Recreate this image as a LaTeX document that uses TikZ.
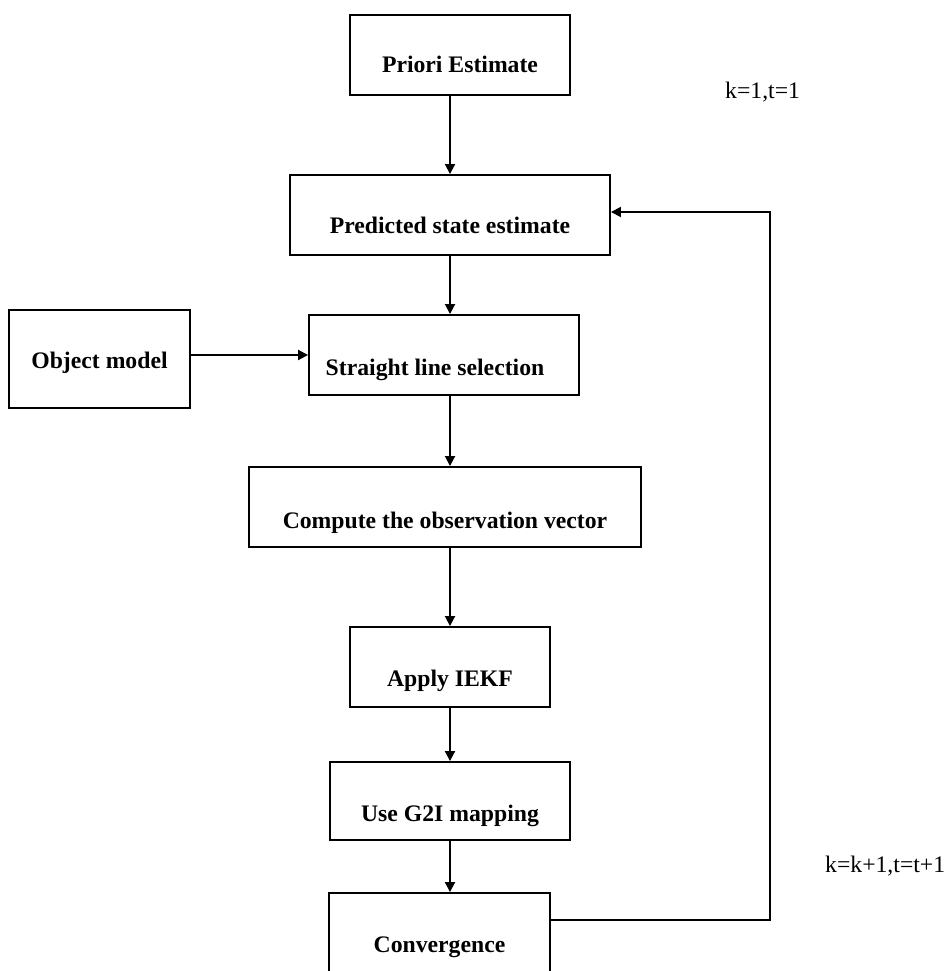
\documentclass[tikz,border=0pt]{standalone}
\usepackage{fontspec}
\setmainfont{Liberation Serif}
\usetikzlibrary{arrows.meta}

\tikzset{
  stepbox/.style={draw, line width=1.9pt, inner sep=0pt, text depth=0pt,
    font=\fontsize{23.7}{28}\selectfont\bfseries},
  note/.style={inner sep=0pt, anchor=west, font=\fontsize{23.7}{28}\selectfont},
  flow/.style={draw, line width=1.9pt, -{Triangle[length=10pt,width=10pt]}},
}

\begin{document}
\begin{tikzpicture}[x=1pt,y=-1pt]

\useasboundingbox (0,0) rectangle (946,971);
\clip (0,0) rectangle (946,971);

\coordinate (axis) at (450,0);

\node[stepbox, minimum width=220pt, minimum height=80pt, text height=36pt] (pri) at (460,55) {Priori Estimate};
\node[stepbox, minimum width=320pt, minimum height=80pt, text height=36pt] (pred) at (450,215) {Predicted state estimate};
\node[stepbox, minimum width=181pt, minimum height=98pt, text height=18pt] (obj) at (99.5,359) {Object model};
\node[stepbox, minimum width=270pt, minimum height=80pt, text height=40pt] (sel) at (444,355) {\hspace*{-18pt}Straight line selection};
\node[stepbox, minimum width=392pt, minimum height=80pt, text height=42pt] (comp) at (445,507) {Compute the observation vector};
\node[stepbox, minimum width=200pt, minimum height=80pt, text height=38pt] (iekf) at (450,667) {Apply IEKF};
\node[stepbox, minimum width=240pt, minimum height=78pt, text height=40pt] (g2i) at (450,801) {Use G2I mapping};
\node[stepbox, minimum width=221pt, minimum height=100pt, text height=18pt] (conv) at (439.5,943) {Convergence};

\node[note] (init) at (725,92) {k=1,t=1};
\node[note] (incr) at (825,866) {k=k+1,t=t+1};

\coordinate (fbB) at (770,920);
\coordinate (fbT) at (770,212);

\path[flow] (pri.south -| axis) -- (pred.north -| axis);
\path[flow] (pred.south -| axis) -- (sel.north -| axis);
\path[flow] (sel.south -| axis) -- (comp.north -| axis);
\path[flow] (comp.south -| axis) -- (iekf.north -| axis);
\path[flow] (iekf.south -| axis) -- (g2i.north -| axis);
\path[flow] (g2i.south -| axis) -- (conv.north -| axis);
\path[flow] (obj.east |- sel.west) -- (sel.west);
\path[flow] (conv.east |- fbB) -- (fbB) -- (fbT) -- (pred.east |- fbT);

\end{tikzpicture}
\end{document}
